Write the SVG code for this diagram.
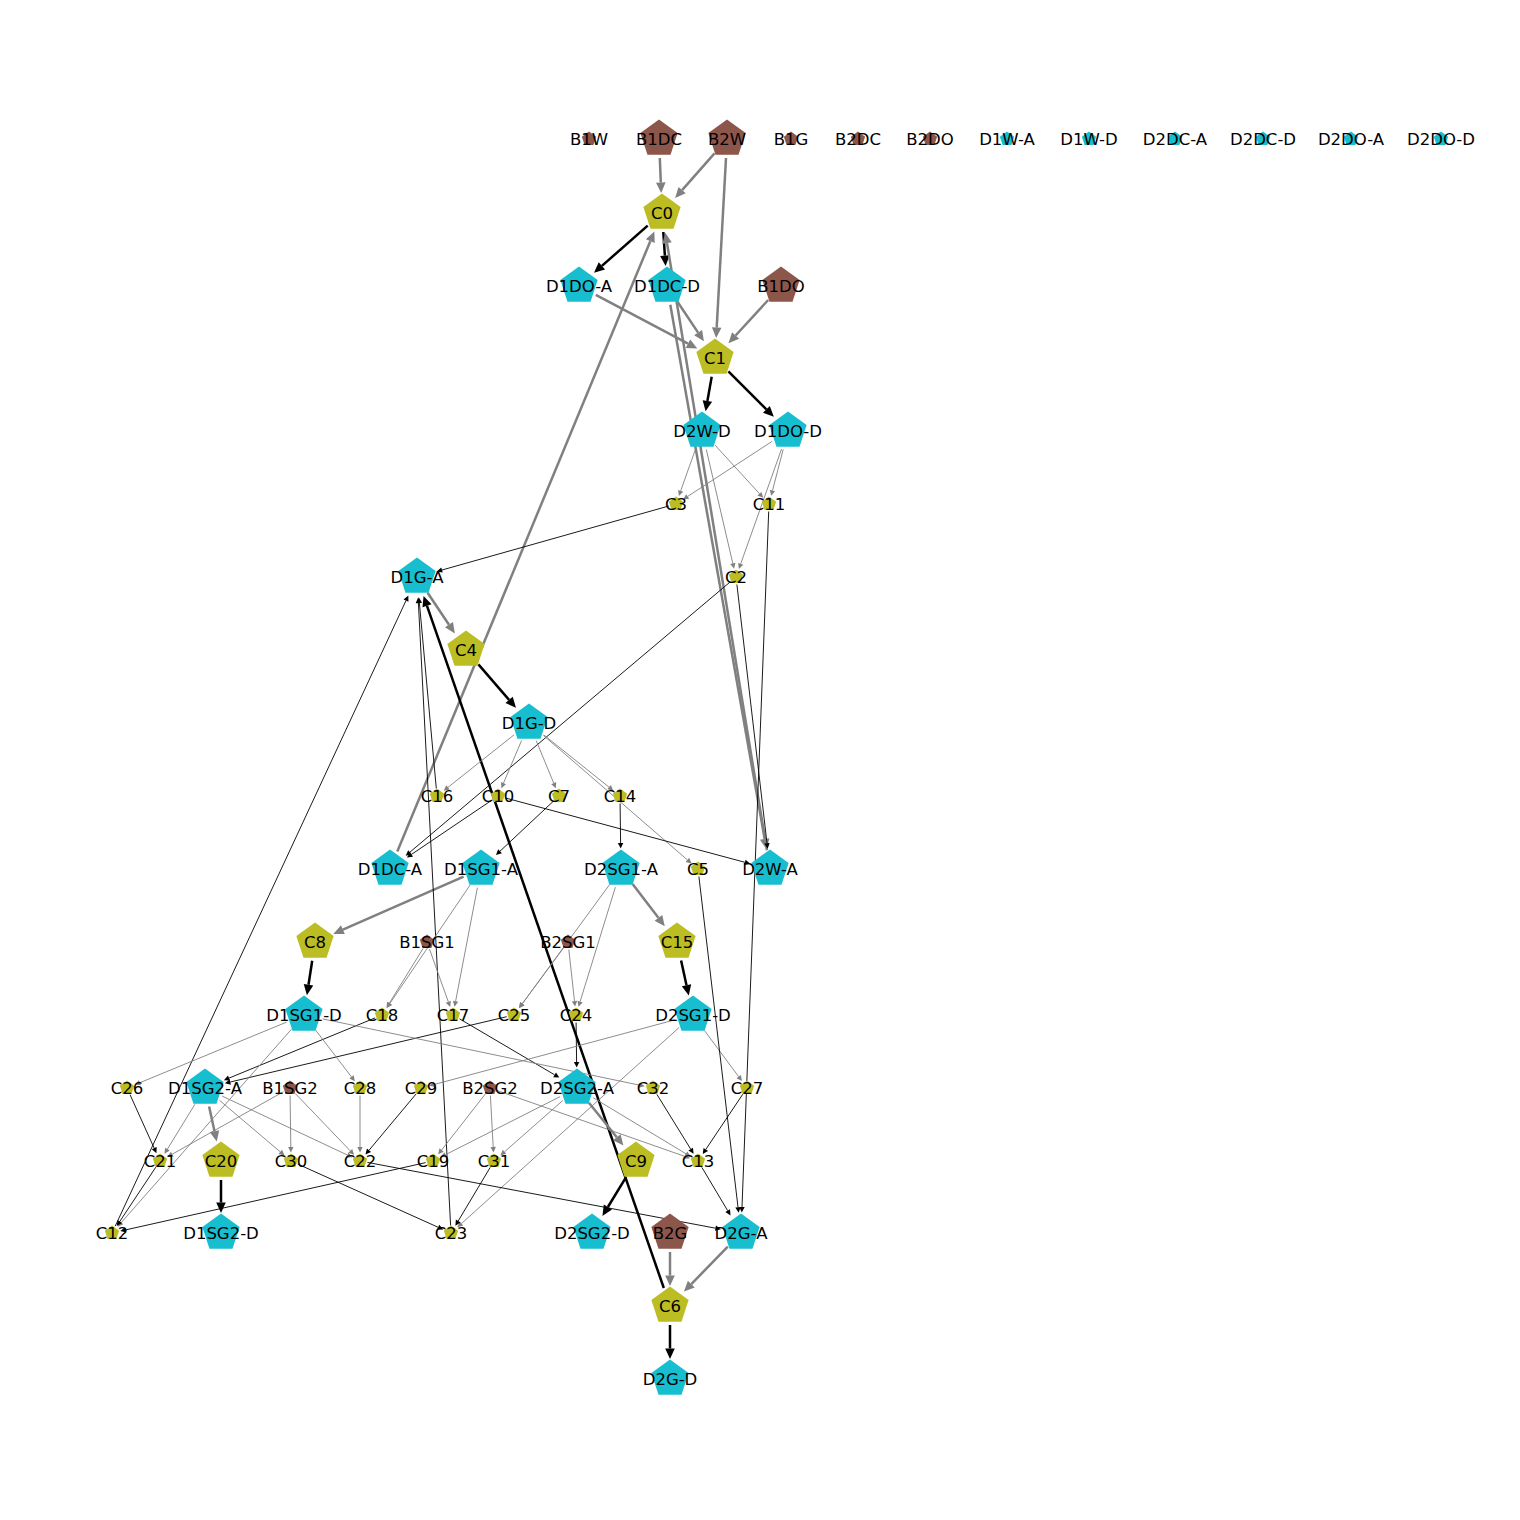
<svg xmlns="http://www.w3.org/2000/svg" xmlns:xlink="http://www.w3.org/1999/xlink" width="1520" height="1520" viewBox="0 0 1520 1520">
<style>
.tb{stroke:#000;stroke-width:2.5;fill:none;marker-end:url(#aTB)}
.tg{stroke:#808080;stroke-width:2.5;fill:none;marker-end:url(#aTG)}
.nb{stroke:#000;stroke-width:0.9;fill:none;marker-end:url(#aNB)}
.ng{stroke:#808080;stroke-width:0.9;fill:none;marker-end:url(#aNG)}
.br{fill:#8c564b}.ol{fill:#bcbd22}.cy{fill:#17becf}
text{font-family:"DejaVu Sans","Liberation Sans",sans-serif;font-size:16.5px;text-anchor:middle;fill:#000}
</style>
<defs>
<marker id="aTB" markerUnits="userSpaceOnUse" orient="auto" refX="0" refY="0" markerWidth="12" markerHeight="12" overflow="visible"><path d="M0,-4.8 L10.5,0 L0,4.8 Z" fill="#000"/></marker>
<marker id="aTG" markerUnits="userSpaceOnUse" orient="auto" refX="0" refY="0" markerWidth="12" markerHeight="12" overflow="visible"><path d="M0,-4.8 L10.5,0 L0,4.8 Z" fill="#808080"/></marker>
<marker id="aNB" markerUnits="userSpaceOnUse" orient="auto" refX="0" refY="0" markerWidth="8" markerHeight="8" overflow="visible"><path d="M0,-2.7 L5.5,0 L0,2.7 Z" fill="#000"/></marker>
<marker id="aNG" markerUnits="userSpaceOnUse" orient="auto" refX="0" refY="0" markerWidth="8" markerHeight="8" overflow="visible"><path d="M0,-2.7 L5.5,0 L0,2.7 Z" fill="#808080"/></marker>
<path id="pB" d="M0,-19.6 L18.64,-6.06 L11.52,15.86 L-11.52,15.86 L-18.64,-6.06 Z"/>
<path id="pS" d="M0,-7.5 L7.13,-2.32 L4.41,6.07 L-4.41,6.07 L-7.13,-2.32 Z"/>
</defs>
<rect width="1520" height="1520" fill="#fff"/>
<g id="edges">
<line class="tg" x1="659.8" y1="158" x2="660.8" y2="182.5"/>
<line class="tg" x1="714.5" y1="153.3" x2="682.1" y2="190.1"/>
<line class="tg" x1="726" y1="158" x2="716.7" y2="327.6"/>
<line class="tb" x1="647.7" y1="225.6" x2="601.9" y2="265.9"/>
<line class="tb" x1="663.3" y1="232" x2="664.9" y2="255.6"/>
<line class="tg" x1="595.8" y1="294.9" x2="688" y2="343.7"/>
<line class="tg" x1="677.5" y1="301.8" x2="698.1" y2="332.6"/>
<line class="tg" x1="768.2" y1="300" x2="735.6" y2="335.5"/>
<line class="tb" x1="711.7" y1="376.7" x2="707.4" y2="401"/>
<line class="tb" x1="728.4" y1="371.4" x2="766.4" y2="409.4"/>
<line class="tg" x1="766.9" y1="850.3" x2="667" y2="243.1"/>
<line class="tg" x1="670.3" y1="304.7" x2="764.7" y2="839"/>
<line class="tg" x1="397.3" y1="851.5" x2="650.3" y2="241.2"/>
<line class="tg" x1="427.6" y1="592.8" x2="449" y2="624.7"/>
<line class="tb" x1="478.4" y1="664.4" x2="509.1" y2="699.9"/>
<line class="tb" x1="663.8" y1="1288" x2="427" y2="605.8"/>
<line class="tg" x1="463.6" y1="876.7" x2="342.9" y2="929.7"/>
<line class="tb" x1="312.2" y1="960.8" x2="308.5" y2="984.8"/>
<line class="tg" x1="632.6" y1="884.1" x2="658.4" y2="917.8"/>
<line class="tb" x1="681.1" y1="960.6" x2="686.5" y2="985.2"/>
<line class="tg" x1="209.1" y1="1106.6" x2="214.5" y2="1131.2"/>
<line class="tb" x1="221" y1="1180" x2="221" y2="1202.5"/>
<line class="tg" x1="588.9" y1="1102.8" x2="616.8" y2="1137.3"/>
<line class="tb" x1="626.1" y1="1177.2" x2="607.9" y2="1207"/>
<line class="tg" x1="670" y1="1252" x2="670" y2="1275.5"/>
<line class="tg" x1="727.8" y1="1246.6" x2="691.3" y2="1284.1"/>
<line class="tb" x1="670" y1="1325" x2="670" y2="1348.5"/>
<line class="ng" x1="695.6" y1="448.9" x2="680.7" y2="490.8"/>
<line class="ng" x1="714.9" y1="445" x2="759.5" y2="493.7"/>
<line class="ng" x1="706.3" y1="449.5" x2="732.8" y2="563.4"/>
<line class="ng" x1="772.1" y1="441.4" x2="687.7" y2="496.4"/>
<line class="ng" x1="783.2" y1="449.4" x2="772.5" y2="490.5"/>
<line class="ng" x1="781.6" y1="448.9" x2="740.7" y2="563.8"/>
<line class="nb" x1="668.8" y1="506" x2="442" y2="570"/>
<line class="nb" x1="768.7" y1="511.5" x2="742" y2="1207"/>
<line class="nb" x1="730.3" y1="581.8" x2="409.9" y2="852.2"/>
<line class="nb" x1="736.9" y1="584.5" x2="767" y2="843.2"/>
<line class="ng" x1="514.1" y1="734.8" x2="448" y2="787.3"/>
<line class="ng" x1="521.6" y1="740.5" x2="503.5" y2="783.1"/>
<line class="ng" x1="536.2" y1="740.6" x2="553.7" y2="783.1"/>
<line class="ng" x1="543.8" y1="734.9" x2="609.1" y2="787.2"/>
<line class="ng" x1="543.4" y1="735.4" x2="687.4" y2="859.9"/>
<line class="nb" x1="491.8" y1="800.2" x2="411.5" y2="854.4"/>
<line class="nb" x1="505.2" y1="797.9" x2="744.9" y2="862.3"/>
<line class="nb" x1="553.5" y1="801.1" x2="500" y2="851.2"/>
<line class="nb" x1="620.1" y1="803.5" x2="620.6" y2="843"/>
<line class="nb" x1="436.3" y1="788.5" x2="419.4" y2="602.9"/>
<line class="nb" x1="450.6" y1="1225.5" x2="418.4" y2="603"/>
<line class="nb" x1="115.2" y1="1226.2" x2="406" y2="600.6"/>
<line class="ng" x1="470.3" y1="884.7" x2="389.9" y2="1003.4"/>
<line class="ng" x1="477.4" y1="887.7" x2="455.6" y2="1001.3"/>
<line class="ng" x1="423.1" y1="948.4" x2="389.4" y2="1003.1"/>
<line class="ng" x1="429.5" y1="949.1" x2="448.3" y2="1001.8"/>
<line class="ng" x1="609.8" y1="884.3" x2="522.3" y2="1003.7"/>
<line class="ng" x1="615.4" y1="887.2" x2="580.1" y2="1001.6"/>
<line class="ng" x1="563.5" y1="948" x2="522.3" y2="1003.7"/>
<line class="ng" x1="568.8" y1="949.5" x2="574.5" y2="1001.1"/>
<line class="nb" x1="375.1" y1="1017.9" x2="229" y2="1078.1"/>
<line class="nb" x1="506.7" y1="1016.7" x2="230.3" y2="1082"/>
<line class="nb" x1="459.5" y1="1018.8" x2="554.6" y2="1074.8"/>
<line class="nb" x1="576.1" y1="1022.5" x2="576.6" y2="1062"/>
<line class="ng" x1="286.4" y1="1022.2" x2="139.9" y2="1082.7"/>
<line class="ng" x1="315.6" y1="1030.1" x2="351.5" y2="1076.9"/>
<line class="ng" x1="322.6" y1="1018.9" x2="639.3" y2="1085.1"/>
<line class="ng" x1="291.4" y1="1029.3" x2="121.3" y2="1222.5"/>
<line class="ng" x1="674.7" y1="1019.9" x2="434.5" y2="1084.4"/>
<line class="ng" x1="678.9" y1="1027.7" x2="461.4" y2="1223.6"/>
<line class="ng" x1="704.3" y1="1030.3" x2="738.7" y2="1076.7"/>
<line class="nb" x1="130.1" y1="1094.8" x2="154.2" y2="1148.2"/>
<line class="ng" x1="195" y1="1104.2" x2="167.4" y2="1149.1"/>
<line class="ng" x1="219.5" y1="1100.3" x2="280.3" y2="1151.9"/>
<line class="ng" x1="222.2" y1="1096.1" x2="347.3" y2="1155"/>
<line class="ng" x1="283.5" y1="1091.7" x2="172.2" y2="1154.2"/>
<line class="ng" x1="290.1" y1="1095.5" x2="290.8" y2="1147"/>
<line class="ng" x1="295.2" y1="1093.4" x2="350.3" y2="1150.9"/>
<line class="ng" x1="360" y1="1095.5" x2="360" y2="1147"/>
<line class="nb" x1="416.2" y1="1093.8" x2="369" y2="1150.3"/>
<line class="ng" x1="485.4" y1="1093.9" x2="441.6" y2="1150"/>
<line class="ng" x1="490.4" y1="1095.5" x2="493.2" y2="1147"/>
<line class="ng" x1="497.1" y1="1090.5" x2="684.8" y2="1156.4"/>
<line class="ng" x1="560.1" y1="1096.6" x2="445.5" y2="1154.7"/>
<line class="ng" x1="562.7" y1="1100.6" x2="504.5" y2="1151.8"/>
<line class="ng" x1="593.3" y1="1097.8" x2="686" y2="1153.8"/>
<line class="nb" x1="656.9" y1="1094.4" x2="690.7" y2="1149.1"/>
<line class="nb" x1="742.8" y1="1094.2" x2="705.8" y2="1149.4"/>
<line class="nb" x1="155.8" y1="1167.2" x2="119.8" y2="1221.4"/>
<line class="nb" x1="425.7" y1="1162.6" x2="125.7" y2="1229.9"/>
<line class="nb" x1="297.8" y1="1164.1" x2="438.2" y2="1227.3"/>
<line class="nb" x1="490.2" y1="1167.4" x2="458.2" y2="1221"/>
<line class="nb" x1="367.4" y1="1162.4" x2="715.5" y2="1228.2"/>
<line class="nb" x1="701.9" y1="1167.4" x2="727.7" y2="1210.7"/>
<line class="nb" x1="698.9" y1="876.5" x2="738" y2="1207.2"/>
</g>
<g id="node-B1W"><use href="#pS" x="589" y="139" class="br"/><text x="589" y="145">B1W</text></g>
<g id="node-B1DC"><use href="#pB" x="659" y="139" class="br"/><text x="659" y="145">B1DC</text></g>
<g id="node-B2W"><use href="#pB" x="727" y="139" class="br"/><text x="727" y="145">B2W</text></g>
<g id="node-B1G"><use href="#pS" x="791" y="139" class="br"/><text x="791" y="145">B1G</text></g>
<g id="node-B2DC"><use href="#pS" x="858" y="139" class="br"/><text x="858" y="145">B2DC</text></g>
<g id="node-B2DO"><use href="#pS" x="930" y="139" class="br"/><text x="930" y="145">B2DO</text></g>
<g id="node-D1W-A"><use href="#pS" x="1007" y="139" class="cy"/><text x="1007" y="145">D1W-A</text></g>
<g id="node-D1W-D"><use href="#pS" x="1089" y="139" class="cy"/><text x="1089" y="145">D1W-D</text></g>
<g id="node-D2DC-A"><use href="#pS" x="1175" y="139" class="cy"/><text x="1175" y="145">D2DC-A</text></g>
<g id="node-D2DC-D"><use href="#pS" x="1263" y="139" class="cy"/><text x="1263" y="145">D2DC-D</text></g>
<g id="node-D2DO-A"><use href="#pS" x="1351" y="139" class="cy"/><text x="1351" y="145">D2DO-A</text></g>
<g id="node-D2DO-D"><use href="#pS" x="1441" y="139" class="cy"/><text x="1441" y="145">D2DO-D</text></g>
<g id="node-C0"><use href="#pB" x="662" y="213" class="ol"/><text x="662" y="219">C0</text></g>
<g id="node-D1DO-A"><use href="#pB" x="579" y="286" class="cy"/><text x="579" y="292">D1DO-A</text></g>
<g id="node-D1DC-D"><use href="#pB" x="667" y="286" class="cy"/><text x="667" y="292">D1DC-D</text></g>
<g id="node-B1DO"><use href="#pB" x="781" y="286" class="br"/><text x="781" y="292">B1DO</text></g>
<g id="node-C1"><use href="#pB" x="715" y="358" class="ol"/><text x="715" y="364">C1</text></g>
<g id="node-D2W-D"><use href="#pB" x="702" y="431" class="cy"/><text x="702" y="437">D2W-D</text></g>
<g id="node-D1DO-D"><use href="#pB" x="788" y="431" class="cy"/><text x="788" y="437">D1DO-D</text></g>
<g id="node-C3"><use href="#pS" x="676" y="504" class="ol"/><text x="676" y="510">C3</text></g>
<g id="node-C11"><use href="#pS" x="769" y="504" class="ol"/><text x="769" y="510">C11</text></g>
<g id="node-C2"><use href="#pS" x="736" y="577" class="ol"/><text x="736" y="583">C2</text></g>
<g id="node-D1G-A"><use href="#pB" x="417" y="577" class="cy"/><text x="417" y="583">D1G-A</text></g>
<g id="node-C4"><use href="#pB" x="466" y="650" class="ol"/><text x="466" y="656">C4</text></g>
<g id="node-D1G-D"><use href="#pB" x="529" y="723" class="cy"/><text x="529" y="729">D1G-D</text></g>
<g id="node-C16"><use href="#pS" x="437" y="796" class="ol"/><text x="437" y="802">C16</text></g>
<g id="node-C10"><use href="#pS" x="498" y="796" class="ol"/><text x="498" y="802">C10</text></g>
<g id="node-C7"><use href="#pS" x="559" y="796" class="ol"/><text x="559" y="802">C7</text></g>
<g id="node-C14"><use href="#pS" x="620" y="796" class="ol"/><text x="620" y="802">C14</text></g>
<g id="node-D1DC-A"><use href="#pB" x="390" y="869" class="cy"/><text x="390" y="875">D1DC-A</text></g>
<g id="node-D1SG1-A"><use href="#pB" x="481" y="869" class="cy"/><text x="481" y="875">D1SG1-A</text></g>
<g id="node-D2SG1-A"><use href="#pB" x="621" y="869" class="cy"/><text x="621" y="875">D2SG1-A</text></g>
<g id="node-C5"><use href="#pS" x="698" y="869" class="ol"/><text x="698" y="875">C5</text></g>
<g id="node-D2W-A"><use href="#pB" x="770" y="869" class="cy"/><text x="770" y="875">D2W-A</text></g>
<g id="node-C8"><use href="#pB" x="315" y="942" class="ol"/><text x="315" y="948">C8</text></g>
<g id="node-B1SG1"><use href="#pS" x="427" y="942" class="br"/><text x="427" y="948">B1SG1</text></g>
<g id="node-B2SG1"><use href="#pS" x="568" y="942" class="br"/><text x="568" y="948">B2SG1</text></g>
<g id="node-C15"><use href="#pB" x="677" y="942" class="ol"/><text x="677" y="948">C15</text></g>
<g id="node-D1SG1-D"><use href="#pB" x="304" y="1015" class="cy"/><text x="304" y="1021">D1SG1-D</text></g>
<g id="node-C18"><use href="#pS" x="382" y="1015" class="ol"/><text x="382" y="1021">C18</text></g>
<g id="node-C17"><use href="#pS" x="453" y="1015" class="ol"/><text x="453" y="1021">C17</text></g>
<g id="node-C25"><use href="#pS" x="514" y="1015" class="ol"/><text x="514" y="1021">C25</text></g>
<g id="node-C24"><use href="#pS" x="576" y="1015" class="ol"/><text x="576" y="1021">C24</text></g>
<g id="node-D2SG1-D"><use href="#pB" x="693" y="1015" class="cy"/><text x="693" y="1021">D2SG1-D</text></g>
<g id="node-C26"><use href="#pS" x="127" y="1088" class="ol"/><text x="127" y="1094">C26</text></g>
<g id="node-D1SG2-A"><use href="#pB" x="205" y="1088" class="cy"/><text x="205" y="1094">D1SG2-A</text></g>
<g id="node-B1SG2"><use href="#pS" x="290" y="1088" class="br"/><text x="290" y="1094">B1SG2</text></g>
<g id="node-C28"><use href="#pS" x="360" y="1088" class="ol"/><text x="360" y="1094">C28</text></g>
<g id="node-C29"><use href="#pS" x="421" y="1088" class="ol"/><text x="421" y="1094">C29</text></g>
<g id="node-B2SG2"><use href="#pS" x="490" y="1088" class="br"/><text x="490" y="1094">B2SG2</text></g>
<g id="node-D2SG2-A"><use href="#pB" x="577" y="1088" class="cy"/><text x="577" y="1094">D2SG2-A</text></g>
<g id="node-C32"><use href="#pS" x="653" y="1088" class="ol"/><text x="653" y="1094">C32</text></g>
<g id="node-C27"><use href="#pS" x="747" y="1088" class="ol"/><text x="747" y="1094">C27</text></g>
<g id="node-C21"><use href="#pS" x="160" y="1161" class="ol"/><text x="160" y="1167">C21</text></g>
<g id="node-C20"><use href="#pB" x="221" y="1161" class="ol"/><text x="221" y="1167">C20</text></g>
<g id="node-C30"><use href="#pS" x="291" y="1161" class="ol"/><text x="291" y="1167">C30</text></g>
<g id="node-C22"><use href="#pS" x="360" y="1161" class="ol"/><text x="360" y="1167">C22</text></g>
<g id="node-C19"><use href="#pS" x="433" y="1161" class="ol"/><text x="433" y="1167">C19</text></g>
<g id="node-C31"><use href="#pS" x="494" y="1161" class="ol"/><text x="494" y="1167">C31</text></g>
<g id="node-C9"><use href="#pB" x="636" y="1161" class="ol"/><text x="636" y="1167">C9</text></g>
<g id="node-C13"><use href="#pS" x="698" y="1161" class="ol"/><text x="698" y="1167">C13</text></g>
<g id="node-C12"><use href="#pS" x="112" y="1233" class="ol"/><text x="112" y="1239">C12</text></g>
<g id="node-D1SG2-D"><use href="#pB" x="221" y="1233" class="cy"/><text x="221" y="1239">D1SG2-D</text></g>
<g id="node-C23"><use href="#pS" x="451" y="1233" class="ol"/><text x="451" y="1239">C23</text></g>
<g id="node-D2SG2-D"><use href="#pB" x="592" y="1233" class="cy"/><text x="592" y="1239">D2SG2-D</text></g>
<g id="node-B2G"><use href="#pB" x="670" y="1233" class="br"/><text x="670" y="1239">B2G</text></g>
<g id="node-D2G-A"><use href="#pB" x="741" y="1233" class="cy"/><text x="741" y="1239">D2G-A</text></g>
<g id="node-C6"><use href="#pB" x="670" y="1306" class="ol"/><text x="670" y="1312">C6</text></g>
<g id="node-D2G-D"><use href="#pB" x="670" y="1379" class="cy"/><text x="670" y="1385">D2G-D</text></g>
</svg>
